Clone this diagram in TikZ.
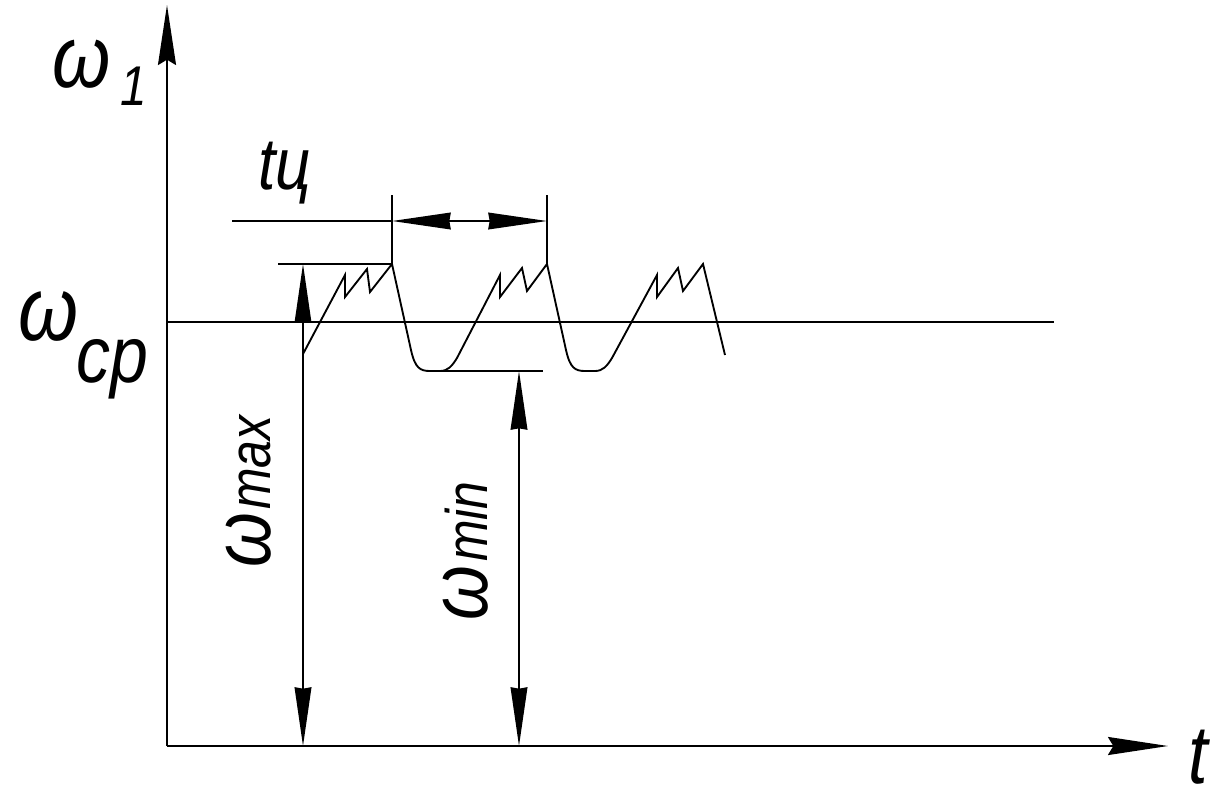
\documentclass[tikz,border=0pt]{standalone}
\usepackage{fontspec}
\setmainfont{Liberation Sans}
\newfontfamily\gost{Liberation Sans}[FakeStretch=0.85]
\usetikzlibrary{arrows.meta}
\begin{document}
\begin{tikzpicture}[x=0.75pt,y=-0.75pt,
  ln/.style={line width=1.4pt},
  ax/.style={line width=1.6pt},
  axarrow/.style={-{Stealth[length=45pt,width=13.5pt,inset=4pt]}},
  dimarrow/.style={{Stealth[length=44pt,width=12.5pt,inset=1pt]}-{Stealth[length=44pt,width=12.5pt,inset=1pt]}},
  lab/.style={inner sep=0pt,font=\gost\itshape},
]
\useasboundingbox (0,0) rectangle (1228,811);
% axes
\coordinate (O) at (167,746);
\coordinate (Ytop) at (167,5);
\coordinate (Xend) at (1168,746);
\draw[ax,axarrow] (O) -- (Ytop);
\draw[ax,axarrow] (O) -- (Xend);
% mean line
\coordinate (cpL) at (167,322);
\coordinate (cpR) at (1054,322);
\draw[ln] (cpL) -- (cpR);
% reference lines
\coordinate (maxL) at (278,264);
\coordinate (P1) at (392,264);
\coordinate (P2) at (547,264);
\coordinate (minL) at (430,371);
\coordinate (minR) at (543,371);
\coordinate (E1) at (392,195);
\coordinate (E2) at (547,195);
\coordinate (tL) at (232,221);
\coordinate (t1) at (392,221);
\coordinate (t2) at (547,221);
\draw[ln] (maxL) -- (P1);
\draw[ln] (minL) -- (minR);
\draw[ln] (E1) -- (P1);
\draw[ln] (E2) -- (P2);
\draw[ln] (tL) -- (t1);
\draw[ln,dimarrow] (t1) -- (t2);
% omega max / min dimensions
\coordinate (wmaxT) at (303,264);
\coordinate (wmaxB) at (303,746);
\coordinate (wminT) at (519,371);
\coordinate (wminB) at (519,746);
\draw[ln,dimarrow] (wmaxT) -- (wmaxB);
\draw[ln,dimarrow] (wminT) -- (wminB);
% waveform
\draw[ln,line join=miter] (303,354) -- (345,275) -- (345,297) -- (367,269) -- (370,292) -- (P1)
  -- (411,350) .. controls (415,368) and (420,371) .. (430,371) -- (440,371)
  .. controls (448,371) and (452,366) .. (457,358) -- (500,275) -- (500,297) -- (522,268) -- (527,291) -- (P2)
  -- (566,350) .. controls (570,368) and (575,371) .. (585,371) -- (595,371)
  .. controls (603,371) and (607,366) .. (612,358) -- (657,275) -- (657,297) -- (678,268) -- (683,291) -- (703,264)
  -- (725,355);
% labels
\node[lab,anchor=base west,font=\gost\itshape\fontsize{66}{66}\selectfont] (w1) at (52,87) {ω};
\node[lab,anchor=base west,font=\gost\itshape\fontsize{42}{42}\selectfont] (w1s) at (120,105) {1};
\node[lab,anchor=base west,font=\gost\itshape\fontsize{68}{68}\selectfont] (wcp) at (18,340) {ω};
\node[lab,anchor=base west,font=\gost\itshape\fontsize{60}{60}\selectfont] (wcps) at (76,382) {ср};
\node[lab,anchor=base west,font=\gost\itshape\fontsize{55}{55}\selectfont] (tc) at (258,189) {tц};
\node[lab,anchor=base west,rotate=90,font=\gost\itshape\fontsize{62}{62}\selectfont] (wmax) at (270,568) {ω};
\node[lab,anchor=base west,rotate=90,font=\gost\itshape\fontsize{44}{44}\selectfont] (wmaxs) at (270,510) {max};
\node[lab,anchor=base west,rotate=90,font=\gost\itshape\fontsize{62}{62}\selectfont] (wmin) at (487,621) {ω};
\node[lab,anchor=base west,rotate=90,font=\gost\itshape\fontsize{44}{44}\selectfont] (wmins) at (487,562) {min};
\node[lab,anchor=base west,font=\gost\itshape\fontsize{62}{62}\selectfont] (tx) at (1188,783) {t};
\end{tikzpicture}
\end{document}
